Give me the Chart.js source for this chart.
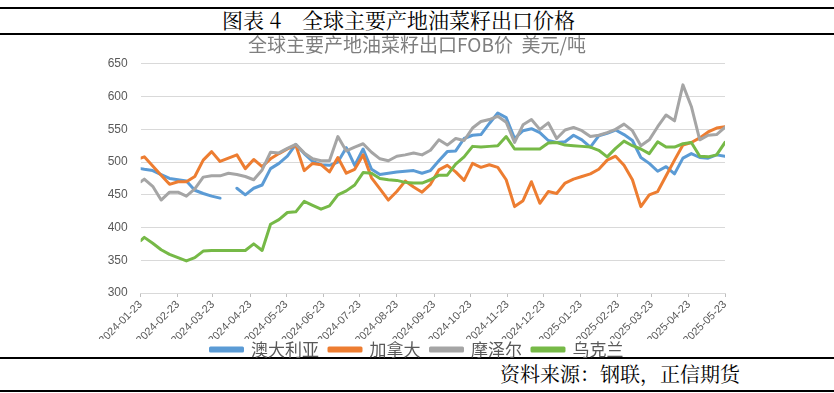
<!DOCTYPE html>
<html>
<head>
<meta charset="utf-8">
<script src="https://cdn.jsdelivr.net/npm/chart.js@4.4.1/dist/chart.umd.min.js"></script>
<style>
html,body{margin:0;padding:0;background:#fff;width:834px;height:393px;overflow:hidden;}
.rule{position:absolute;left:0;width:834px;height:1.5px;background:#000;}
#title{position:absolute;top:6px;left:222px;white-space:nowrap;font-size:21px;line-height:27px;color:#000;font-family:"Noto Serif CJK SC","Liberation Serif","Noto Sans CJK SC",serif;}
#source{position:absolute;top:362px;right:94px;white-space:nowrap;font-size:20px;line-height:24px;color:#000;font-family:"Noto Serif CJK SC","Liberation Serif","Noto Sans CJK SC",serif;}
#wrap{position:absolute;left:0;top:34px;width:834px;height:342px;}
</style>
</head>
<body>
<div class="rule" style="top:7px"></div>
<div id="title">图表 4　全球主要产地油菜籽出口价格</div>
<div class="rule" style="top:33px"></div>
<div class="rule" style="top:357px"></div>
<div id="source">资料来源：钢联，正信期货</div>
<div class="rule" style="top:390px"></div>
<div id="wrap"><canvas id="c"></canvas></div>
<script>
const chartTitle = "全球主要产地油菜籽出口FOB价  美元/吨";
const seriesNames = ["澳大利亚", "加拿大", "摩泽尔", "乌克兰"];
const dates = ["2024-01-23","2024-01-26","2024-02-02","2024-02-09","2024-02-16","2024-02-23","2024-03-01","2024-03-08","2024-03-15","2024-03-22","2024-03-29","2024-04-05","2024-04-12","2024-04-19","2024-04-26","2024-05-03","2024-05-10","2024-05-17","2024-05-24","2024-05-31","2024-06-07","2024-06-14","2024-06-21","2024-06-28","2024-07-05","2024-07-12","2024-07-19","2024-07-26","2024-08-02","2024-08-09","2024-08-16","2024-08-23","2024-08-30","2024-09-06","2024-09-13","2024-09-20","2024-09-27","2024-10-04","2024-10-11","2024-10-18","2024-10-25","2024-11-01","2024-11-08","2024-11-15","2024-11-22","2024-11-29","2024-12-06","2024-12-13","2024-12-20","2024-12-27","2025-01-03","2025-01-10","2025-01-17","2025-01-24","2025-01-31","2025-02-07","2025-02-14","2025-02-21","2025-02-28","2025-03-07","2025-03-14","2025-03-21","2025-03-28","2025-04-04","2025-04-11","2025-04-18","2025-04-25","2025-05-02","2025-05-09","2025-05-16","2025-05-23"];
const australia = [490,
  489,487,481,475,473,471,457,452,448,445,
  null,460,450,460,465,490,498,509,527,513,
  501,496,495,500,522,495,520,489,481,483,
  485,486,487,483,487,502,516,517,536,541,
  542,559,575,568,536,548,551,545,533,530,
  531,541,534,523,540,544,549,542,533,507,
  498,486,493,482,506,513,507,506,511,509];
const canada = [506,
  508,494,480,466,470,470,478,503,516,501,
  506,511,490,504,493,505,513,520,526,487,
  498,496,485,507,483,489,511,476,459,442,
  455,471,462,454,466,488,495,485,472,498,
  492,496,492,473,432,441,470,437,455,452,
  468,474,478,482,489,503,509,495,473,432,
  450,455,479,503,526,530,537,546,552,554];
const mozambique = [470,
  474,463,442,454,454,448,459,477,479,479,
  483,481,478,473,488,515,514,521,527,514,
  505,502,502,539,517,523,528,515,505,502,
  509,511,514,511,518,534,526,536,533,552,
  562,565,570,561,530,557,565,550,560,536,
  549,553,548,539,541,545,550,558,548,525,
  534,554,572,563,618,585,534,541,542,553];
const ukraine = [380,
  385,376,366,359,354,349,354,364,365,365,
  365,365,365,375,365,405,412,423,424,440,
  434,428,433,450,456,465,484,483,475,473,
  472,469,468,468,473,480,480,497,508,524,
  523,524,525,539,520,520,520,520,529,530,
  526,525,524,523,518,508,521,532,525,520,
  513,531,523,523,528,530,509,508,511,530];
const tickLabels = ["2024-01-23","2024-02-23","2024-03-23","2024-04-23","2024-05-23","2024-06-23","2024-07-23","2024-08-23","2024-09-23","2024-10-23","2024-11-23","2024-12-23","2025-01-23","2025-02-23","2025-03-23","2025-04-23","2025-05-23"];
const yTicks = [300, 350, 400, 450, 500, 550, 600, 650];
const colors = ["#5b9bd5", "#ed7d31", "#a5a5a5", "#76b947"];

const DAY = 86400000;
const base = Date.parse(dates[0]);
const dayOf = s => (Date.parse(s) - base) / DAY;
const xs = dates.map(dayOf);
const tickVals = tickLabels.map(dayOf);
const toPts = arr => arr.map((v, i) => ({x: xs[i], y: v}));
const all = [australia, canada, mozambique, ukraine];

const datasets = all.map((arr, i) => ({
  label: seriesNames[i],
  data: toPts(arr),
  borderColor: colors[i],
  backgroundColor: colors[i],
  borderWidth: 3,
  pointRadius: 0,
  pointHoverRadius: 0,
  tension: 0,
  spanGaps: false,
  borderJoinStyle: 'round',
  borderCapStyle: 'round',
  order: 3 - i
}));

const legendShift = {
  id: 'legendShift',
  afterLayout(chart) {
    const l = chart.legend;
    if (l) { l.top -= 8; l.bottom -= 8; }
  }
};

new Chart(document.getElementById('c'), {
  type: 'line',
  data: {datasets},
  plugins: [legendShift],
  options: {
    responsive: true,
    maintainAspectRatio: false,
    animation: false,
    events: [],
    layout: {padding: {left: 0, right: 0, top: 0, bottom: 0}},
    plugins: {
      title: {
        display: true,
        text: chartTitle,
        color: '#7f7f7f',
        font: {size: 19, family: '"Noto Sans CJK SC", "Liberation Sans", sans-serif', weight: 'normal', lineHeight: 1.1},
        padding: {top: 0, bottom: 9}
      },
      legend: {
        position: 'bottom',
        labels: {
          boxWidth: 32,
          boxHeight: 3,
          padding: 10,
          color: '#595959',
          font: {size: 17, family: '"Noto Sans CJK SC", sans-serif'},
          sort: (a, b) => a.datasetIndex - b.datasetIndex
        }
      },
      tooltip: {enabled: false}
    },
    scales: {
      x: {
        type: 'linear',
        min: 0,
        max: tickVals[tickVals.length - 1],
        afterBuildTicks: s => { s.ticks = tickVals.map(v => ({value: v})); },
        afterFit: s => { s.height = 46; },
        ticks: {
          autoSkip: false,
          maxRotation: 45,
          minRotation: 45,
          padding: 1,
          color: '#595959',
          font: {size: 11, family: '"Liberation Sans", sans-serif'},
          callback: (v, i) => tickLabels[i]
        },
        grid: {drawOnChartArea: false, drawTicks: true, tickLength: 4, color: '#bfbfbf'},
        border: {display: true, color: '#d9d9d9', width: 1}
      },
      y: {
        min: yTicks[0],
        max: yTicks[yTicks.length - 1],
        afterBuildTicks: s => { s.ticks = yTicks.map(v => ({value: v})); },
        afterFit: s => { s.width = 140.7; },
        ticks: {
          padding: 13,
          color: '#595959',
          font: {size: 12, family: '"Liberation Sans", sans-serif'}
        },
        grid: {color: '#d9d9d9', drawTicks: false, lineWidth: 1},
        border: {display: false}
      },
      yRight: {
        position: 'right',
        display: true,
        ticks: {display: false},
        grid: {display: false, drawTicks: false},
        border: {display: false},
        afterFit: s => { s.width = 109; }
      }
    }
  }
});
</script>
</body>
</html>
